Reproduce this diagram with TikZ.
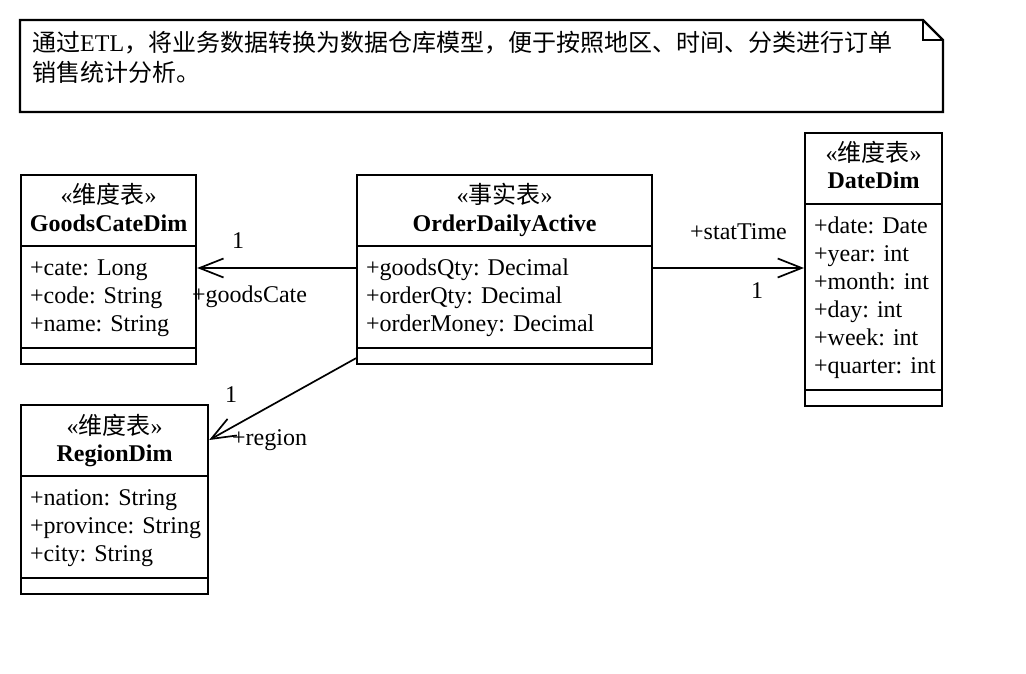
\documentclass[tikz,border=0pt]{standalone}
\usepackage{fontspec}
\setmainfont{Liberation Serif}
\newfontfamily\cjk{Noto Sans CJK SC}
\usetikzlibrary{calc}
\usetikzlibrary{arrows.meta}

\begin{document}
\begin{tikzpicture}[x=1pt, y=-1pt,
    every node/.style={font=\fontsize{24}{28}\selectfont, inner sep=0pt},
    outline/.style={line width=2.2pt},
    classbox/.style={draw, line width=2.2pt, rectangle, anchor=north west},
    attr/.style={anchor=north west, align=left},
    assoc/.style={line width=1.7pt, -{Straight Barb[length=24pt, width=19pt]}}]
  \useasboundingbox (0,0) rectangle (1026,674);

  % note
  \draw[outline] (20,20) -- (923,20) -- (943,40) -- (943,112) -- (20,112) -- cycle;
  \draw[outline] (923,20) -- (923,40) -- (943,40);
  \node[attr] (note) at (32,31.4) {\strut{\cjk 通过}ETL{\cjk ，将业务数据转换为数据仓库模型，便于按照地区、时间、分类进行订单}\\{\cjk 销售统计分析。}};

  % GoodsCateDim
  \node[classbox, minimum width=175, minimum height=189] (goods) at (20,174) {};
  \node[anchor=base] (goodsstereo) at ($(goods.north)+(0,30)$) {«{\cjk 维度表}»};
  \node[anchor=base] (goodsname) at ($(goods.north)+(0,57)$) {\textbf{GoodsCateDim}};
  \draw[outline] ($(goods.north west)+(0,72)$) -- ($(goods.north east)+(0,72)$);
  \draw[outline] ($(goods.south west)+(0,-17)$) -- ($(goods.south east)+(0,-17)$);
  \node[attr] (goodsattr) at ($(goods.north west)+(10,81.4)$) {\strut+cate: Long\\+code: String\\+name: String};

  % OrderDailyActive
  \node[classbox, minimum width=295, minimum height=189] (order) at (356,174) {};
  \node[anchor=base] (orderstereo) at ($(order.north)+(0,30)$) {«{\cjk 事实表}»};
  \node[anchor=base] (ordername) at ($(order.north)+(0,57)$) {\textbf{OrderDailyActive}};
  \draw[outline] ($(order.north west)+(0,72)$) -- ($(order.north east)+(0,72)$);
  \draw[outline] ($(order.south west)+(0,-17)$) -- ($(order.south east)+(0,-17)$);
  \node[attr] (orderattr) at ($(order.north west)+(10,81.4)$) {\strut+goodsQty: Decimal\\+orderQty: Decimal\\+orderMoney: Decimal};

  % DateDim
  \node[classbox, minimum width=137, minimum height=273] (date) at (804,132) {};
  \node[anchor=base] (datestereo) at ($(date.north)+(0,30)$) {«{\cjk 维度表}»};
  \node[anchor=base] (datename) at ($(date.north)+(0,57)$) {\textbf{DateDim}};
  \draw[outline] ($(date.north west)+(0,72)$) -- ($(date.north east)+(0,72)$);
  \draw[outline] ($(date.south west)+(0,-17)$) -- ($(date.south east)+(0,-17)$);
  \node[attr] (dateattr) at ($(date.north west)+(10,81.4)$) {\strut+date: Date\\+year: int\\+month: int\\+day: int\\+week: int\\+quarter: int};

  % RegionDim
  \node[classbox, minimum width=187, minimum height=189] (region) at (20,404) {};
  \node[anchor=base] (regionstereo) at ($(region.north)+(0,30)$) {«{\cjk 维度表}»};
  \node[anchor=base] (regionname) at ($(region.north)+(0,57)$) {\textbf{RegionDim}};
  \draw[outline] ($(region.north west)+(0,72)$) -- ($(region.north east)+(0,72)$);
  \draw[outline] ($(region.south west)+(0,-17)$) -- ($(region.south east)+(0,-17)$);
  \node[attr] (regionattr) at ($(region.north west)+(10,81.4)$) {\strut+nation: String\\+province: String\\+city: String};

  % associations
  \draw[assoc] ($(order.north west)+(0,94)$) -- ($(goods.north east)+(0,94)$);
  \node[anchor=base] (goodsmult) at (238,248) {1};
  \node[anchor=base west] (goodsrole) at (192,302) {+goodsCate};

  \draw[assoc] ($(order.north east)+(0,94)$) -- ($(date.north west)+(0,136)$);
  \node[anchor=base west] (daterole) at (690,240) {+statTime};
  \node[anchor=base] (datemult) at (757,298) {1};

  \draw[assoc] ($(order.south west)+(0,-7)$) -- ($(region.north east)+(0,36)$);
  \node[anchor=base] (regionmult) at (231,402) {1};
  \node[anchor=base west] (regionrole) at (232,445) {+region};
\end{tikzpicture}
\end{document}
